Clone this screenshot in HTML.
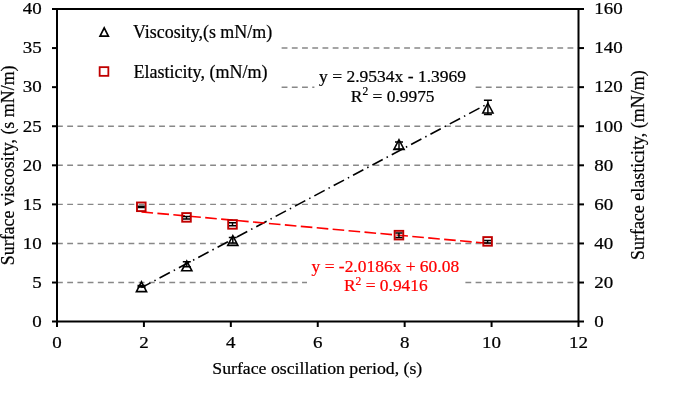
<!DOCTYPE html>
<html><head><meta charset="utf-8"><style>
html,body{margin:0;padding:0;background:#fff;}
svg{display:block;will-change:transform;}
text{font-family:"Liberation Serif", serif;fill:#000;stroke:#000;stroke-width:0.22px;}
</style></head><body>
<svg width="685" height="415" viewBox="0 0 685 415">
<rect width="685" height="415" fill="#fff"/>

<line x1="57.0" y1="282.53" x2="578.5" y2="282.53" stroke="#888" stroke-width="1.46" stroke-dasharray="5.83 4.38"/>
<line x1="57.0" y1="243.45" x2="578.5" y2="243.45" stroke="#888" stroke-width="1.46" stroke-dasharray="5.83 4.38"/>
<line x1="57.0" y1="204.38" x2="578.5" y2="204.38" stroke="#888" stroke-width="1.46" stroke-dasharray="5.83 4.38"/>
<line x1="57.0" y1="165.30" x2="578.5" y2="165.30" stroke="#888" stroke-width="1.46" stroke-dasharray="5.83 4.38"/>
<line x1="57.0" y1="126.23" x2="578.5" y2="126.23" stroke="#888" stroke-width="1.46" stroke-dasharray="5.83 4.38"/>
<line x1="57.0" y1="87.15" x2="578.5" y2="87.15" stroke="#888" stroke-width="1.46" stroke-dasharray="5.83 4.38"/>
<line x1="57.0" y1="48.07" x2="578.5" y2="48.07" stroke="#888" stroke-width="1.46" stroke-dasharray="5.83 4.38"/>
<rect x="58" y="14" width="222" height="80" fill="#fff"/>
<rect x="314.4" y="64" width="158.6" height="42" fill="#fff"/>
<rect x="307" y="255" width="156" height="42" fill="#fff"/>
<g stroke="#000" stroke-width="2" fill="none">
<line x1="52" y1="9" x2="584" y2="9"/>
<line x1="52" y1="321.6" x2="584" y2="321.6"/>
<line x1="57" y1="8" x2="57" y2="327"/>
<line x1="578.5" y1="8" x2="578.5" y2="327"/>
<line x1="52" y1="282.53" x2="57" y2="282.53"/>
<line x1="578.5" y1="282.53" x2="584" y2="282.53"/>
<line x1="52" y1="243.45" x2="57" y2="243.45"/>
<line x1="578.5" y1="243.45" x2="584" y2="243.45"/>
<line x1="52" y1="204.38" x2="57" y2="204.38"/>
<line x1="578.5" y1="204.38" x2="584" y2="204.38"/>
<line x1="52" y1="165.30" x2="57" y2="165.30"/>
<line x1="578.5" y1="165.30" x2="584" y2="165.30"/>
<line x1="52" y1="126.23" x2="57" y2="126.23"/>
<line x1="578.5" y1="126.23" x2="584" y2="126.23"/>
<line x1="52" y1="87.15" x2="57" y2="87.15"/>
<line x1="578.5" y1="87.15" x2="584" y2="87.15"/>
<line x1="52" y1="48.07" x2="57" y2="48.07"/>
<line x1="578.5" y1="48.07" x2="584" y2="48.07"/>
<line x1="143.92" y1="321.6" x2="143.92" y2="327"/>
<line x1="230.83" y1="321.6" x2="230.83" y2="327"/>
<line x1="317.75" y1="321.6" x2="317.75" y2="327"/>
<line x1="404.66" y1="321.6" x2="404.66" y2="327"/>
<line x1="491.58" y1="321.6" x2="491.58" y2="327"/>
</g>
<text transform="translate(41.8,326.90) scale(1.15,1)" font-size="16.5" text-anchor="end">0</text>
<text transform="translate(594.2,326.90) scale(1.15,1)" font-size="16.5">0</text>
<text transform="translate(41.8,287.83) scale(1.15,1)" font-size="16.5" text-anchor="end">5</text>
<text transform="translate(594.2,287.83) scale(1.15,1)" font-size="16.5">20</text>
<text transform="translate(41.8,248.75) scale(1.15,1)" font-size="16.5" text-anchor="end">10</text>
<text transform="translate(594.2,248.75) scale(1.15,1)" font-size="16.5">40</text>
<text transform="translate(41.8,209.68) scale(1.15,1)" font-size="16.5" text-anchor="end">15</text>
<text transform="translate(594.2,209.68) scale(1.15,1)" font-size="16.5">60</text>
<text transform="translate(41.8,170.60) scale(1.15,1)" font-size="16.5" text-anchor="end">20</text>
<text transform="translate(594.2,170.60) scale(1.15,1)" font-size="16.5">80</text>
<text transform="translate(41.8,131.53) scale(1.15,1)" font-size="16.5" text-anchor="end">25</text>
<text transform="translate(594.2,131.53) scale(1.15,1)" font-size="16.5">100</text>
<text transform="translate(41.8,92.45) scale(1.15,1)" font-size="16.5" text-anchor="end">30</text>
<text transform="translate(594.2,92.45) scale(1.15,1)" font-size="16.5">120</text>
<text transform="translate(41.8,53.37) scale(1.15,1)" font-size="16.5" text-anchor="end">35</text>
<text transform="translate(594.2,53.37) scale(1.15,1)" font-size="16.5">140</text>
<text transform="translate(41.8,14.30) scale(1.15,1)" font-size="16.5" text-anchor="end">40</text>
<text transform="translate(594.2,14.30) scale(1.15,1)" font-size="16.5">160</text>
<text transform="translate(57.00,348) scale(1.15,1)" font-size="16.5" text-anchor="middle">0</text>
<text transform="translate(143.92,348) scale(1.15,1)" font-size="16.5" text-anchor="middle">2</text>
<text transform="translate(230.83,348) scale(1.15,1)" font-size="16.5" text-anchor="middle">4</text>
<text transform="translate(317.75,348) scale(1.15,1)" font-size="16.5" text-anchor="middle">6</text>
<text transform="translate(404.66,348) scale(1.15,1)" font-size="16.5" text-anchor="middle">8</text>
<text transform="translate(491.58,348) scale(1.15,1)" font-size="16.5" text-anchor="middle">10</text>
<text transform="translate(578.50,348) scale(1.15,1)" font-size="16.5" text-anchor="middle">12</text>
<text x="317.3" y="373.6" font-size="17.75" text-anchor="middle">Surface oscillation period, (s)</text>
<text transform="translate(14,165.35) rotate(-90)" x="0" y="0" font-size="17.92" text-anchor="middle">Surface viscosity, (s mN/m)</text>
<text transform="translate(644,165.2) rotate(-90)" x="0" y="0" font-size="17.94" text-anchor="middle">Surface elasticity, (mN/m)</text>
<path d="M104.2,27.85 L108.37,36.15 L100.03,36.15 Z" fill="none" stroke="#000" stroke-width="1.7" stroke-linejoin="miter"/>
<rect x="99.65" y="67.15" width="8.7" height="8.7" fill="none" stroke="#C00000" stroke-width="1.8"/>
<text x="133" y="37.5" font-size="17.93">Viscosity,(s mN/m)</text>
<text x="133.5" y="77.5" font-size="18.04">Elasticity, (mN/m)</text>
<text x="392.6" y="82.2" font-size="17.5" text-anchor="middle">y = 2.9534x - 1.3969</text>
<text x="392.7" y="101.6" font-size="17.4" text-anchor="middle">R<tspan font-size="11.5" dy="-6.3">2</tspan><tspan dy="6.3"> = 0.9975</tspan></text>
<text x="385.35" y="272.4" font-size="17.45" text-anchor="middle" style="fill:#f00;stroke:#f00">y = -2.0186x + 60.08</text>
<text x="385.85" y="291" font-size="17.4" text-anchor="middle" style="fill:#f00;stroke:#f00">R<tspan font-size="11.5" dy="-6.3">2</tspan><tspan dy="6.3"> = 0.9416</tspan></text>
<line x1="141.48" y1="287.65" x2="487.89" y2="103.67" stroke="#000" stroke-width="1.6" stroke-dasharray="11.69 4.38 1.46 4.38" stroke-dashoffset="1.47"/>
<line x1="141.48" y1="211.89" x2="487.89" y2="243.32" stroke="#f00" stroke-width="1.6" stroke-dasharray="11.63 4.365"/>
<rect x="137.00" y="202.50" width="8.6" height="8.6" fill="none" stroke="#C00000" stroke-width="1.9"/>
<path d="M141.30,206.30 V207.60 M137.80,206.30 H144.80 M137.80,207.60 H144.80" stroke="#000" stroke-width="1.46" fill="none"/>
<rect x="182.20" y="213.10" width="8.6" height="8.6" fill="none" stroke="#C00000" stroke-width="1.9"/>
<path d="M186.50,216.60 V219.00 M183.00,216.60 H190.00 M183.00,219.00 H190.00" stroke="#000" stroke-width="1.46" fill="none"/>
<rect x="228.20" y="220.10" width="8.6" height="8.6" fill="none" stroke="#C00000" stroke-width="1.9"/>
<path d="M232.50,222.70 V225.70 M229.00,222.70 H236.00 M229.00,225.70 H236.00" stroke="#000" stroke-width="1.46" fill="none"/>
<rect x="394.65" y="230.85" width="8.6" height="8.6" fill="none" stroke="#C00000" stroke-width="1.9"/>
<path d="M398.95,233.00 V237.40 M395.45,233.00 H402.45 M395.45,237.40 H402.45" stroke="#000" stroke-width="1.46" fill="none"/>
<rect x="483.30" y="237.10" width="8.6" height="8.6" fill="none" stroke="#C00000" stroke-width="1.9"/>
<path d="M487.60,240.60 V243.10 M484.10,240.60 H491.10 M484.10,243.10 H491.10" stroke="#000" stroke-width="1.46" fill="none"/>
<path d="M141.50,281.85 L146.60,291.60 L136.40,291.60 Z" fill="none" stroke="#000" stroke-width="1.6" stroke-linejoin="miter"/>
<path d="M141.50,285.60 V286.90 M137.50,285.60 H145.50 M137.50,286.90 H145.50" stroke="#000" stroke-width="1.46" fill="none"/>
<path d="M186.80,261.05 L191.90,270.80 L181.70,270.80 Z" fill="none" stroke="#000" stroke-width="1.6" stroke-linejoin="miter"/>
<path d="M186.80,261.80 V266.80 M182.80,261.80 H190.80 M182.80,266.80 H190.80" stroke="#000" stroke-width="1.46" fill="none"/>
<path d="M232.80,235.65 L237.90,245.40 L227.70,245.40 Z" fill="none" stroke="#000" stroke-width="1.6" stroke-linejoin="miter"/>
<path d="M232.80,237.50 V243.10 M228.80,237.50 H236.80 M228.80,243.10 H236.80" stroke="#000" stroke-width="1.46" fill="none"/>
<path d="M399.00,139.75 L404.10,149.50 L393.90,149.50 Z" fill="none" stroke="#000" stroke-width="1.6" stroke-linejoin="miter"/>
<path d="M399.00,141.90 V149.00 M395.00,141.90 H403.00 M395.00,149.00 H403.00" stroke="#000" stroke-width="1.46" fill="none"/>
<path d="M487.90,103.25 L493.00,113.00 L482.80,113.00 Z" fill="none" stroke="#000" stroke-width="1.6" stroke-linejoin="miter"/>
<path d="M487.90,100.30 V114.40 M483.90,100.30 H491.90 M483.90,114.40 H491.90" stroke="#000" stroke-width="1.46" fill="none"/>
</svg>
</body></html>
